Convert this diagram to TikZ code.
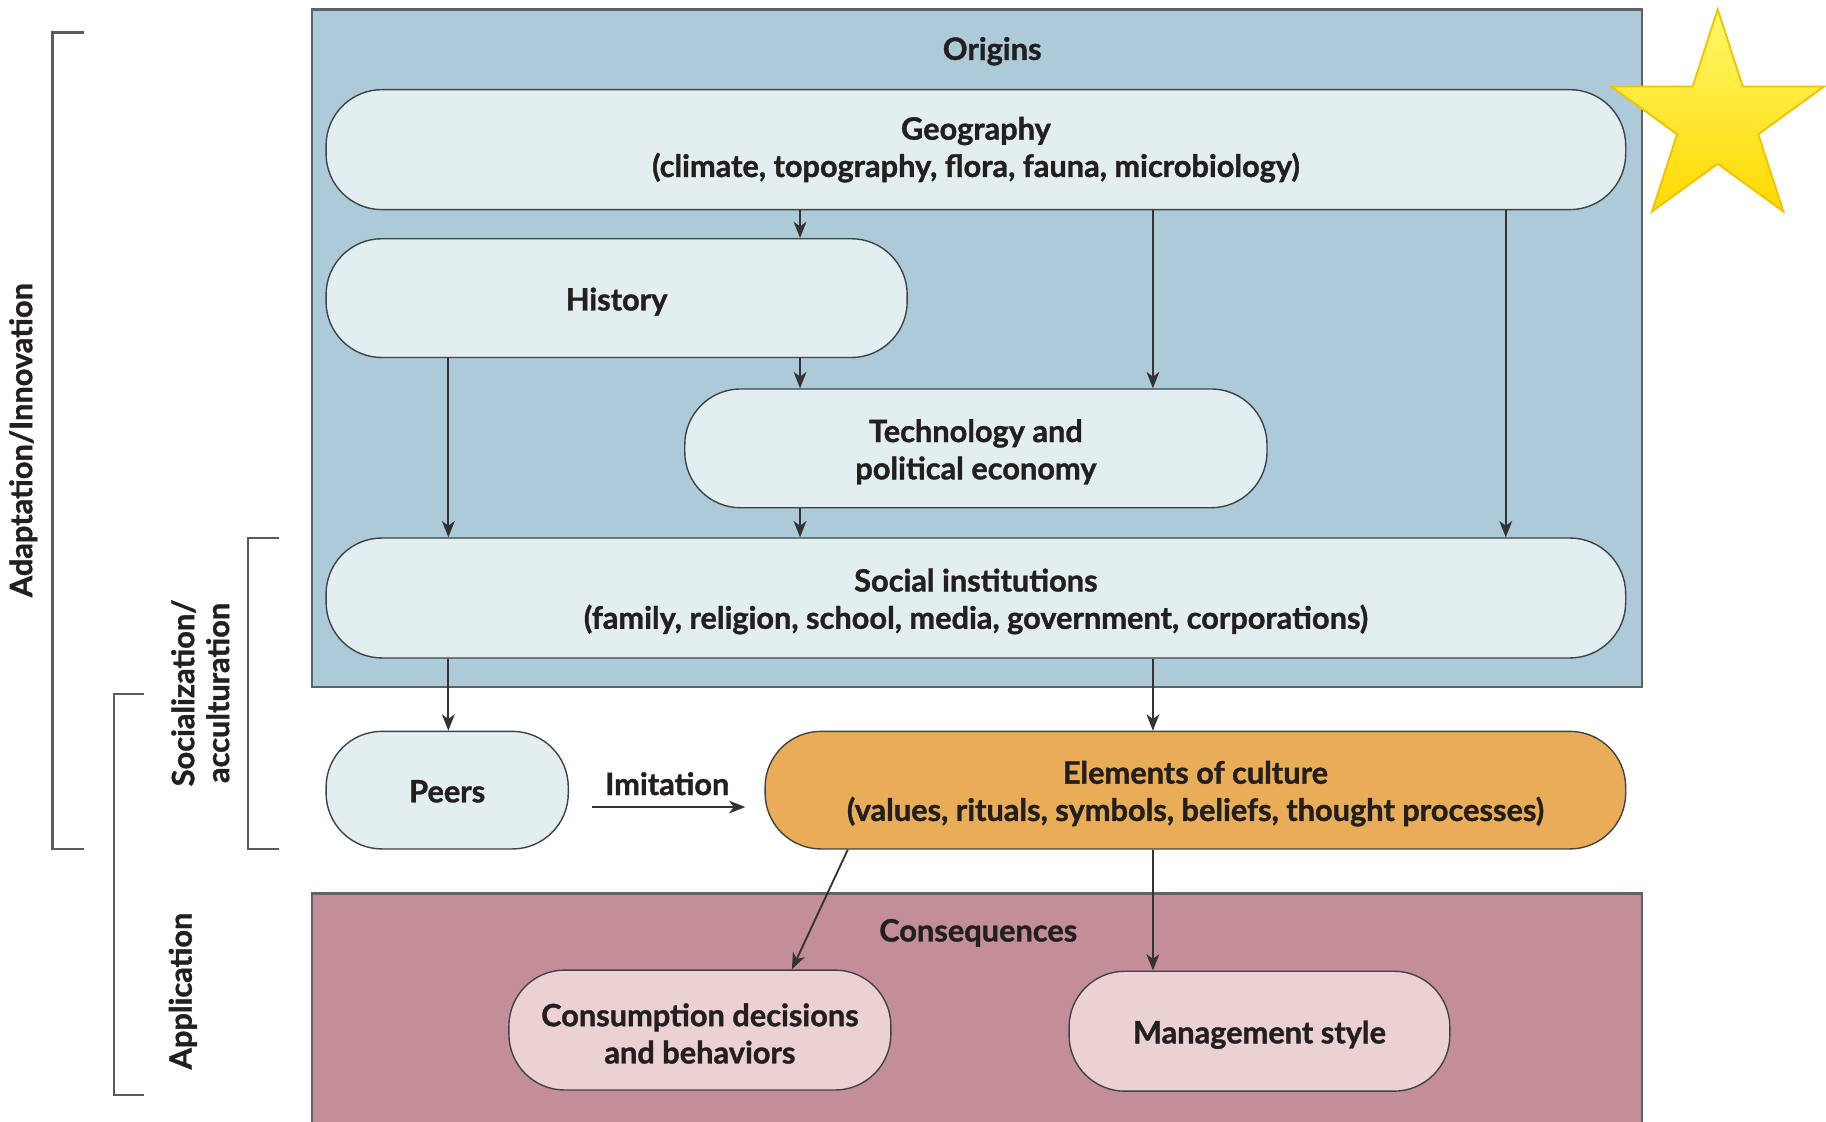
\documentclass[tikz,border=0pt]{standalone}
\usepackage{fontspec}
\setmainfont{Lato}[BoldFeatures={FakeBold=1.2}]
\usetikzlibrary{arrows.meta,shapes.geometric}
\definecolor{originsfill}{HTML}{ADCAD8}
\definecolor{pillfill}{HTML}{E3EEF1}
\definecolor{elemfill}{HTML}{E9AD57}
\definecolor{consfill}{HTML}{C38E97}
\definecolor{conspill}{HTML}{EBD1D1}
\definecolor{boxline}{HTML}{5F6366}
\definecolor{pillline}{HTML}{3E4346}
\definecolor{linec}{HTML}{333333}
\definecolor{txt}{HTML}{231F20}
\definecolor{bracketc}{HTML}{5A5C5E}
\definecolor{startop}{HTML}{FFF86A}
\definecolor{starbot}{HTML}{FFD900}
\definecolor{starline}{HTML}{F2C200}
\tikzset{
  container/.style={draw=boxline, line width=1.1pt, inner sep=0pt},
  ptext/.style={font=\fontsize{13.2}{16}\selectfont\bfseries, text=txt, align=center, inner sep=0pt, yshift=-1.5pt},
  pill/.style={draw=pillline, line width=0.6pt, fill=pillfill, rounded corners=24pt, inner sep=0pt},
  arr/.style={draw=linec, line width=0.8pt, -{Stealth[length=7pt,width=5.5pt,inset=2pt]}},
  lab/.style={font=\fontsize{13.2}{15}\selectfont\bfseries, text=txt, align=center, inner sep=0pt},
  bracket/.style={draw=bracketc, line width=1pt}
}
\begin{document}
\begin{tikzpicture}[x=0.5pt,y=-0.5pt]
\useasboundingbox (0,0) rectangle (1568,963);
% containers
\node[container, fill=originsfill, minimum width=571pt, minimum height=291pt] (origins) at (839,299) {};
\node[lab] (originslab) at (852,44) {Origins};
\node[container, fill=consfill, minimum width=571pt, minimum height=110pt, anchor=north] (conseq) at (839,766) {};
\node[lab] (conseqlab) at (840,801) {Consequences};
% pills
\node[pill, minimum width=558pt, minimum height=51.5pt, label={[ptext, yshift=1.5pt]center:{Geography\\(climate, topography, flora, fauna, microbiology)}}] (geo) at (838,128.5) {};
\node[pill, minimum width=249.5pt, minimum height=51pt, label={[ptext]center:History}] (hist) at (529.5,256) {};
\node[pill, minimum width=250pt, minimum height=51pt, label={[ptext]center:{Technology and\\political economy}}] (tech) at (838,385) {};
\node[pill, minimum width=558pt, minimum height=51.5pt, label={[ptext]center:{Social institutions\\(family, religion, school, media, government, corporations)}}] (soc) at (838,513.5) {};
\node[pill, minimum width=104pt, minimum height=50.5pt, label={[ptext, yshift=1pt]center:Peers}] (peers) at (384,678.5) {};
\node[pill, fill=elemfill, minimum width=369.5pt, minimum height=50.5pt, label={[ptext]center:{Elements of culture\\(values, rituals, symbols, beliefs, thought processes)}}] (elem) at (1026.5,678.5) {};
\node[pill, fill=conspill, minimum width=164pt, minimum height=51.5pt, label={[ptext]center:{Consumption decisions\\and behaviors}}] (cons) at (601,884.5) {};
\node[pill, fill=conspill, minimum width=163.5pt, minimum height=51.5pt, label={[ptext]center:Management style}] (mgmt) at (1081.5,885.5) {};
% connector x positions
\coordinate (cA) at (687,0);
\coordinate (cB) at (990,0);
\coordinate (cC) at (1293,0);
\coordinate (cD) at (385,0);
\coordinate (cE) at (728,0);
\coordinate (cF) at (680,0);
\draw[arr] (geo.south -| cA) -- (hist.north -| cA);
\draw[arr] (hist.south -| cA) -- (tech.north -| cA);
\draw[arr] (geo.south -| cB) -- (tech.north -| cB);
\draw[arr] (hist.south -| cD) -- (soc.north -| cD);
\draw[arr] (tech.south -| cA) -- (soc.north -| cA);
\draw[arr] (geo.south -| cC) -- (soc.north -| cC);
\draw[arr] (soc.south -| cD) -- (peers.north -| cD);
\draw[arr] (soc.south -| cB) -- (elem.north -| cB);
\draw[arr] (elem.south -| cE) -- (cons.north -| cF);
\draw[arr] (elem.south -| cB) -- (mgmt.north -| cB);
% imitation
\coordinate (im1) at (508,693);
\coordinate (im2) at (640,693);
\draw[arr] (im1) -- (im2);
\node[lab] (imlab) at (573,673) {Imitation};
% brackets
\draw[bracket] (72,28) -- (45,28) -- (45,729) -- (72,729);
\node[lab, rotate=90] (adlab) at (20,378) {Adaptation/Innovation};
\draw[bracket] (240,462) -- (213,462) -- (213,729) -- (240,729);
\node[lab, rotate=90] (soclab) at (172,595) {Socialization/\\acculturation};
\draw[bracket] (124,596) -- (98,596) -- (98,940) -- (124,940);
\node[lab, rotate=90] (applab) at (157,851) {Application};
% star
\node[star, star points=5, star point ratio=2.618, minimum size=96pt, inner sep=0pt,
  draw=starline, line width=0.8pt, top color=startop, bottom color=starbot] (star) at (1475,104) {};
\end{tikzpicture}
\end{document}
